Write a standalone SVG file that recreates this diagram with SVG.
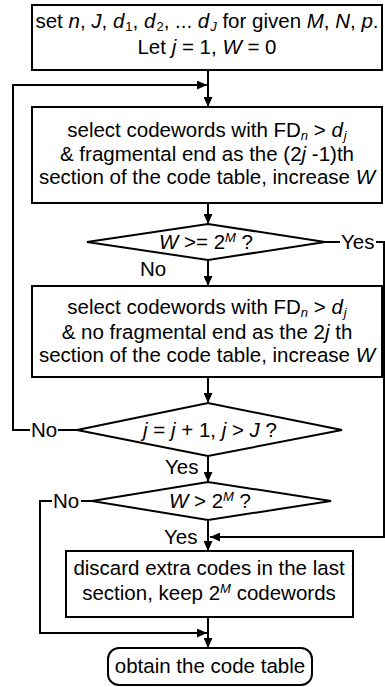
<svg xmlns="http://www.w3.org/2000/svg" width="385" height="687" viewBox="0 0 385 687">
<style>
.s{fill:#fff;stroke:#000;stroke-width:2}
.l{fill:none;stroke:#000;stroke-width:2}
text{font-family:"Liberation Sans",Arial,sans-serif;font-size:20.5px;fill:#000}
.c{text-anchor:middle}
.i{font-style:italic}
.sb{font-size:13px;baseline-shift:-3px}
.sp{font-size:13px;baseline-shift:super}
</style>
<defs>
<marker id="ah" markerUnits="userSpaceOnUse" markerWidth="10" markerHeight="9" refX="10" refY="4.5" orient="auto" viewBox="0 0 10 9">
<path d="M0,0 L10,4.5 L0,9 z" fill="#000"/>
</marker>
</defs>
<g id="connectors">
<line class="l" x1="208" y1="70" x2="208" y2="107" marker-end="url(#ah)"/>
<polyline class="l" points="30,430 13,430 13,85 207,85" marker-end="url(#ah)"/>
<line class="l" x1="208" y1="203" x2="208" y2="224" marker-end="url(#ah)"/>
<line class="l" x1="208" y1="260" x2="208" y2="286" marker-end="url(#ah)"/>
<line class="l" x1="325" y1="242" x2="340" y2="242"/>
<polyline class="l" points="376,242 384,242 384,537 210,537" marker-end="url(#ah)"/>
<line class="l" x1="208" y1="377" x2="208" y2="403" marker-end="url(#ah)"/>
<line class="l" x1="77" y1="430" x2="58" y2="430"/>
<line class="l" x1="208" y1="456" x2="208" y2="482" marker-end="url(#ah)"/>
<line class="l" x1="92" y1="501" x2="81" y2="501"/>
<polyline class="l" points="52,501 40,501 40,633 207,633" marker-end="url(#ah)"/>
<line class="l" x1="208" y1="520" x2="208" y2="551" marker-end="url(#ah)"/>
<line class="l" x1="208" y1="617" x2="208" y2="648" marker-end="url(#ah)"/>
<text x="341" y="249">Yes</text>
<text x="140" y="276">No</text>
<text x="31" y="437">No</text>
<text x="165" y="474">Yes</text>
<text x="53" y="508">No</text>
<text x="164" y="544">Yes</text>
</g>
<g id="start">
<rect class="s" x="32" y="5" width="350" height="65"/>
<text class="c" x="207" y="28">set <tspan class="i">n</tspan>, <tspan class="i">J</tspan>, <tspan class="i">d</tspan><tspan class="sb" dx="1">1</tspan>, <tspan class="i">d</tspan><tspan class="sb" dx="1">2</tspan>, ... <tspan class="i">d</tspan><tspan class="sb i" dx="1">J</tspan> for given <tspan class="i">M</tspan>, <tspan class="i">N</tspan>, <tspan class="i">p</tspan>.</text>
<text class="c" x="207" y="54">Let <tspan class="i">j</tspan> = 1, <tspan class="i">W</tspan> = 0</text>
</g>
<g id="select1">
<rect class="s" x="32" y="107" width="350" height="96"/>
<text class="c" x="207" y="137">select codewords with FD<tspan class="sb i">n</tspan> &gt; <tspan class="i">d</tspan><tspan class="sb i" dx="1">j</tspan></text>
<text class="c" x="207" y="161">&amp; fragmental end as the (2<tspan class="i">j</tspan> -1)th</text>
<text class="c" x="207" y="184">section of the code table, increase <tspan class="i">W</tspan></text>
</g>
<g id="check1">
<polygon class="s" points="87,242 208,224 325,242 208,260"/>
<text class="c" x="206" y="249"><tspan class="i">W</tspan> &gt;= 2<tspan class="sp i">M</tspan> ?</text>
</g>
<g id="select2">
<rect class="s" x="32" y="286" width="350" height="91"/>
<text class="c" x="207" y="314">select codewords with FD<tspan class="sb i">n</tspan> &gt; <tspan class="i">d</tspan><tspan class="sb i" dx="1">j</tspan></text>
<text class="c" x="207" y="339">&amp; no fragmental end as the 2<tspan class="i">j</tspan> th</text>
<text class="c" x="207" y="362">section of the code table, increase <tspan class="i">W</tspan></text>
</g>
<g id="check2">
<polygon class="s" points="77,430 208,403 342,430 208,456"/>
<text class="c" x="210" y="437"><tspan class="i">j</tspan> = <tspan class="i">j</tspan> + 1, <tspan class="i">j</tspan> &gt; <tspan class="i">J</tspan> ?</text>
</g>
<g id="check3">
<polygon class="s" points="92,501 208,482 331,501 208,520"/>
<text class="c" x="210" y="508"><tspan class="i">W</tspan> &gt; 2<tspan class="sp i">M</tspan> ?</text>
</g>
<g id="discard">
<rect class="s" x="66" y="551" width="287" height="66"/>
<text class="c" x="209" y="575">discard extra codes in the last</text>
<text class="c" x="209" y="600">section, keep 2<tspan class="sp i">M</tspan> codewords</text>
</g>
<g id="end">
<rect class="s" x="108" y="648" width="204" height="37" rx="11"/>
<text class="c" x="210" y="673">obtain the code table</text>
</g>
</svg>
